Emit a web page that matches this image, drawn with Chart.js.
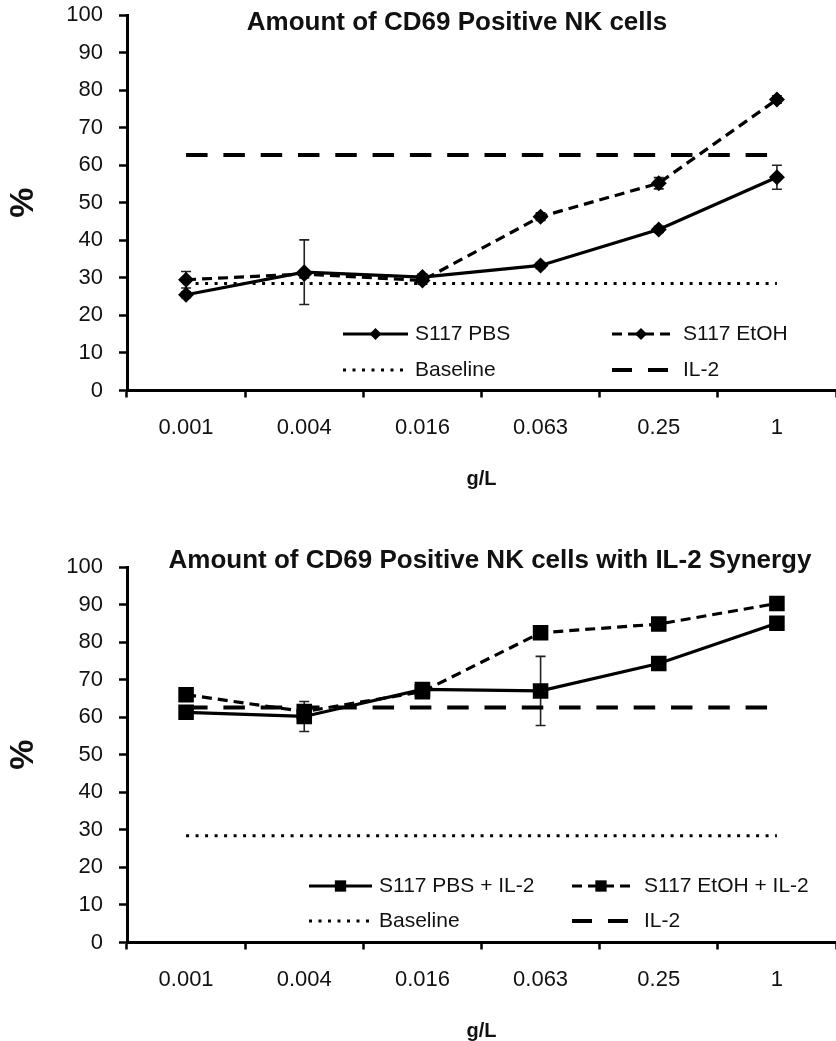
<!DOCTYPE html>
<html><head><meta charset="utf-8">
<script src="https://cdn.jsdelivr.net/npm/chart.js@4.4.1/dist/chart.umd.min.js"></script>
<style>
html,body{margin:0;padding:0;background:#fff;}
#wrap{position:relative;width:836px;height:1041px;overflow:hidden;background:#fff;}
canvas{display:block;}
</style></head><body>
<div id="wrap">
<canvas id="c1" width="836" height="520"></canvas>
<canvas id="c2" width="836" height="521"></canvas>
</div>
<script>
// ---------- data ----------
const categories = ['0.001', '0.004', '0.016', '0.063', '0.25', '1'];
const titleTop = 'Amount of CD69 Positive NK cells';
const titleBottom = 'Amount of CD69 Positive NK cells with IL-2 Synergy';
const xAxisTitle = 'g/L';
const yAxisTitle = '%';

const labelsTop = ['S117 PBS', 'S117 EtOH', 'Baseline', 'IL-2'];
const pbs      = [25.5, 31.5, 30.2, 33.3, 42.9, 56.8];
const pbsErr   = [0.8, 8.6, 0.8, 0.8, 0.8, 3.2];
const etoh     = [29.5, 31.0, 29.3, 46.3, 55.2, 77.5];
const etohErr  = [2.2, 1.0, 1.0, 1.0, 1.5, 1.0];
const baselineTop = [28.5, 28.5, 28.5, 28.5, 28.5, 28.5];
const il2Top      = [62.7, 62.7, 62.7, 62.7, 62.7, 62.7];

const labelsBottom = ['S117 PBS + IL-2', 'S117 EtOH + IL-2', 'Baseline', 'IL-2'];
const pbsIL2     = [61.3, 60.2, 67.4, 67.0, 74.3, 85.0];
const pbsIL2Err  = [1.0, 4.0, 1.0, 9.2, 1.0, 1.0];
const etohIL2    = [66.0, 61.5, 66.8, 82.5, 84.8, 90.3];
const etohIL2Err = [1.0, 1.0, 1.0, 1.0, 1.0, 1.0];
const baselineBottom = [28.4, 28.4, 28.4, 28.4, 28.4, 28.4];
const il2Bottom      = [62.6, 62.6, 62.6, 62.6, 62.6, 62.6];

// ---------- styling ----------
const FONT = "'Liberation Sans', Arial, Helvetica, sans-serif";
const INK = '#111';

function drawMarker(ctx, style, r, x, y) {
  ctx.beginPath();
  if (style === 'rectRot') {
    ctx.moveTo(x - r, y); ctx.lineTo(x, y - r); ctx.lineTo(x + r, y); ctx.lineTo(x, y + r);
  } else {
    const s = Math.SQRT1_2 * r;
    ctx.rect(x - s, y - s, 2 * s, 2 * s);
  }
  ctx.closePath();
  ctx.fill();
}

const errorBars = {
  id: 'errorBars',
  beforeDatasetsDraw(chart) {
    const ctx = chart.ctx, ys = chart.scales.y;
    ctx.save();
    ctx.strokeStyle = '#222';
    ctx.lineWidth = 1.6;
    ctx.setLineDash([]);
    chart.data.datasets.forEach((ds, i) => {
      if (!ds.errors) return;
      const meta = chart.getDatasetMeta(i);
      meta.data.forEach((pt, j) => {
        const e = ds.errors[j];
        if (!e) return;
        const v = ds.data[j];
        const x = pt.x, yHi = ys.getPixelForValue(v + e), yLo = ys.getPixelForValue(v - e);
        ctx.beginPath();
        ctx.moveTo(x, yHi); ctx.lineTo(x, yLo);
        ctx.moveTo(x - 5, yHi); ctx.lineTo(x + 5, yHi);
        ctx.moveTo(x - 5, yLo); ctx.lineTo(x + 5, yLo);
        ctx.stroke();
      });
    });
    ctx.restore();
  }
};

const insetLegend = {
  id: 'insetLegend',
  afterDraw(chart, args, o) {
    const ctx = chart.ctx;
    ctx.save();
    chart.data.datasets.forEach((ds, i) => {
      const row = Math.floor(i / 2), col = i % 2;
      const y = o.rows[row];
      const x1 = o.lines[col][0], x2 = o.lines[col][1];
      ctx.strokeStyle = ds.borderColor;
      ctx.lineWidth = ds.borderWidth;
      ctx.lineCap = 'butt';
      ctx.setLineDash(ds.legendDash || ds.borderDash || []);
      ctx.beginPath(); ctx.moveTo(x1, y); ctx.lineTo(x2, y); ctx.stroke();
      ctx.setLineDash([]);
      if (ds.pointRadius > 0) {
        ctx.fillStyle = ds.pointBackgroundColor;
        drawMarker(ctx, ds.pointStyle, ds.legendPointRadius, (x1 + x2) / 2, y);
      }
      ctx.fillStyle = INK;
      ctx.font = o.font;
      ctx.textAlign = 'left';
      ctx.textBaseline = 'middle';
      ctx.fillText(ds.label, o.texts[col], y);
    });
    ctx.restore();
  }
};

const insetTitle = {
  id: 'insetTitle',
  afterDraw(chart, args, o) {
    const ctx = chart.ctx;
    ctx.save();
    ctx.fillStyle = INK;
    ctx.font = o.font;
    ctx.textAlign = 'center';
    ctx.textBaseline = 'middle';
    ctx.fillText(o.text, o.x, o.y);
    ctx.restore();
  }
};

function makeChart(id, datasets, title, legendCfg, padTop, padBottom) {
  return new Chart(document.getElementById(id), {
    type: 'line',
    data: { labels: categories, datasets: datasets },
    options: {
      responsive: false,
      animation: false,
      devicePixelRatio: 1,
      events: [],
      layout: { autoPadding: false, padding: { top: padTop, right: 0, bottom: padBottom, left: 0 } },
      plugins: {
        legend: { display: false },
        tooltip: { enabled: false },
        title: { display: false },
        insetLegend: Object.assign({ font: '21px ' + FONT }, legendCfg),
        insetTitle: title
      },
      scales: {
        x: {
          type: 'category',
          offset: true,
          grid: { offset: true, drawOnChartArea: false, drawTicks: true, tickLength: 7, tickWidth: 2.5, tickColor: '#000' },
          border: { display: true, color: '#000', width: 3 },
          ticks: { color: INK, font: { family: FONT, size: 22 }, padding: 17, maxRotation: 0, autoSkip: false },
          title: { display: true, text: xAxisTitle, color: INK, font: { family: FONT, size: 20, weight: 'bold', lineHeight: 1 }, padding: { top: 0, bottom: 0 } },
          afterFit(s) { s.height = 98.5; s.paddingLeft = 0; s.paddingRight = 0; }
        },
        y: {
          min: 0, max: 100,
          ticks: { stepSize: 10, color: INK, font: { family: FONT, size: 22 }, padding: 16 },
          grid: { drawOnChartArea: false, drawTicks: true, tickLength: 8, tickWidth: 2.5, tickColor: '#000' },
          border: { display: true, color: '#000', width: 3 },
          title: { display: true, text: yAxisTitle, color: INK, font: { family: FONT, size: 34, weight: 'bold', lineHeight: 1 }, padding: { top: 7, bottom: 0 } },
          afterFit(s) { s.width = 127; s.paddingTop = 0; s.paddingBottom = 0; }
        }
      }
    },
    plugins: [errorBars, insetLegend, insetTitle]
  });
}

function seriesSet(labels, a, aErr, b, bErr, base, il2, marker, mRadius, legR) {
  return [
    { label: labels[0], data: a, errors: aErr, borderColor: '#000', borderWidth: 3.2, borderDash: [],
      pointStyle: marker, pointRadius: mRadius, pointBackgroundColor: '#000', pointBorderWidth: 0, legendPointRadius: legR, tension: 0 },
    { label: labels[1], data: b, errors: bErr, borderColor: '#000', borderWidth: 3.2, borderDash: [10, 6],
      pointStyle: marker, pointRadius: mRadius, pointBackgroundColor: '#000', pointBorderWidth: 0, legendPointRadius: legR, tension: 0 },
    { label: labels[2], data: base, borderColor: '#000', borderWidth: 3, borderDash: [3, 6.5], pointRadius: 0, tension: 0 },
    { label: labels[3], data: il2, borderColor: '#000', borderWidth: 4, borderDash: [21.5, 15.8], legendDash: [20, 16], pointRadius: 0, tension: 0 }
  ];
}

makeChart('c1',
  seriesSet(labelsTop, pbs, pbsErr, etoh, etohErr, baselineTop, il2Top, 'rectRot', 8, 6),
  { text: titleTop, x: 457, y: 23, font: 'bold 26px ' + FONT },
  { rows: [334, 370], lines: [[343, 408], [612, 670]], texts: [415, 683] },
  15, 31);

makeChart('c2',
  seriesSet(labelsBottom, pbsIL2, pbsIL2Err, etohIL2, etohIL2Err, baselineBottom, il2Bottom, 'rect', 11, 8),
  { text: titleBottom, x: 490, y: 41, font: 'bold 26px ' + FONT },
  { rows: [366, 401], lines: [[309, 372], [572, 630]], texts: [379, 644] },
  47, 0);
</script>
</body></html>
